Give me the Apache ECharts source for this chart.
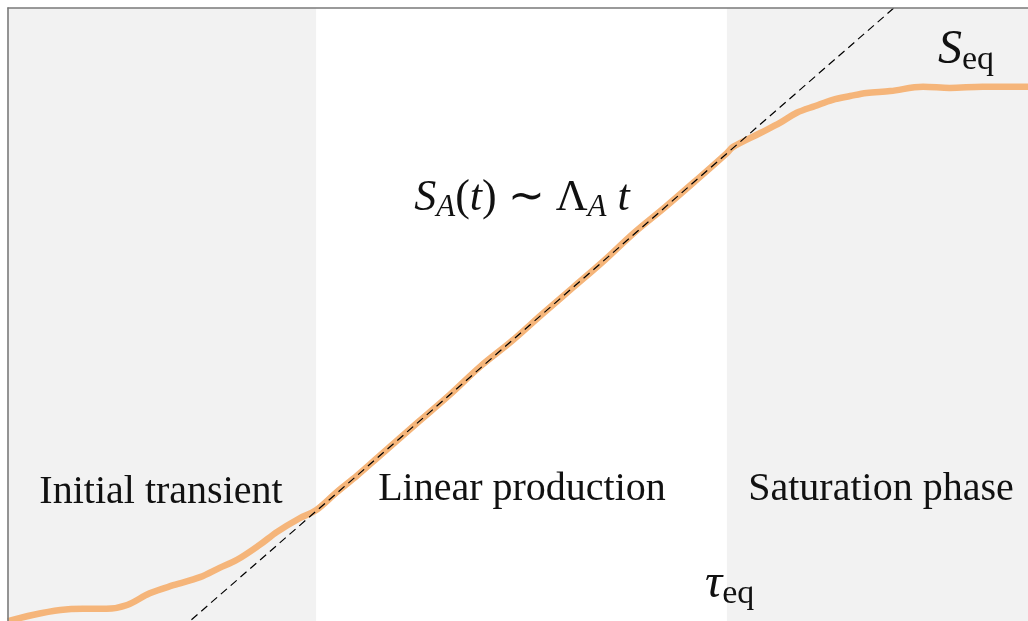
<!DOCTYPE html>
<html>
<head>
<meta charset="utf-8">
<script src="https://cdn.jsdelivr.net/npm/echarts@6/dist/echarts.min.js"></script>
<style>
html,body{margin:0;padding:0;background:#fff;}
#chart{width:1028px;height:621px;}
</style>
</head>
<body>
<div id="chart"></div>
<script>
// time values of the entropy curve
var curveT = [0, 0.24, 0.51, 0.73, 0.96, 1.16, 1.38, 1.61, 1.87, 2.06, 2.23, 2.45, 2.62, 2.84, 3.00,
  3.2, 3.4, 3.6, 3.8, 4.0, 4.3, 4.6, 4.9, 5.2, 5.5, 5.8, 6.1, 6.4, 6.7, 7.0,
  7.06, 7.32, 7.52, 7.68, 7.86, 8.03, 8.20, 8.36, 8.59, 8.91, 9.17, 9.49, 9.76, 10.0];
// entropy values S_A(t)
var curveS = [0.11, 0.21, 0.29, 0.31, 0.31, 0.37, 0.56, 0.69, 0.82, 0.97, 1.10, 1.34, 1.55, 1.77, 1.90,
  2.19, 2.46, 2.75, 3.04, 3.33, 3.76, 4.22, 4.62, 5.06, 5.49, 5.92, 6.38, 6.79, 7.22, 7.66,
  7.76, 7.98, 8.15, 8.31, 8.42, 8.52, 8.58, 8.63, 8.66, 8.73, 8.71, 8.73, 8.73, 8.73];
// linear-growth tangent  S = Lambda_A * t + c
var tangentT = [1.5, 9.0];
var tangentS = [-0.28, 10.54];
// phase boundaries
var phaseStarts = [0, 3, 7];
var phaseEnds = [3, 7, 10];
var phaseShaded = [true, false, true];
var phaseNames = ['Initial transient', 'Linear production', 'Saturation phase'];

function zip(a, b) { return a.map(function (v, i) { return [v, b[i]]; }); }

var areas = [];
phaseStarts.forEach(function (s, i) {
  if (phaseShaded[i]) areas.push([{ xAxis: s }, { xAxis: phaseEnds[i] }]);
});

var serif = 'Liberation Serif';
function plain(txt, x, y) {
  return { type: 'text', x: x, y: y, z: 20, style: { text: txt, fontFamily: serif, fontSize: 40, fill: '#111', textAlign: 'center', textVerticalAlign: 'middle' } };
}
var chart = echarts.init(document.getElementById('chart'), null, { renderer: 'canvas' });
chart.setOption({
  backgroundColor: '#ffffff',
  animation: false,
  grid: { left: 8, top: 8, width: 1027, height: 620, show: false, outerBoundsMode: 'none', containLabel: false },
  xAxis: {
    type: 'value', min: 0, max: 10, position: 'top', z: 10,
    axisLine: { show: true, onZero: false, lineStyle: { color: '#7a7a7a', width: 1.6 } },
    axisTick: { show: false }, axisLabel: { show: false }, splitLine: { show: false }
  },
  yAxis: {
    type: 'value', min: 0, max: 10, position: 'left', z: 10,
    axisLine: { show: true, onZero: false, lineStyle: { color: '#7a7a7a', width: 1.6 } },
    axisTick: { show: false }, axisLabel: { show: false }, splitLine: { show: false }
  },
  series: [
    {
      type: 'line', name: 'S_A', data: zip(curveT, curveS), showSymbol: false, smooth: 0.35,
      z: 3,
      lineStyle: { color: '#f5b57a', width: 6.5 },
      markArea: { silent: true, itemStyle: { color: '#f2f2f2' }, data: areas }
    },
    {
      type: 'line', name: 'tangent', data: zip(tangentT, tangentS), showSymbol: false,
      z: 4,
      lineStyle: { color: '#000000', width: 1.2, type: [8, 5] }
    }
  ],
  graphic: [
    plain(phaseNames[0], 161, 492),
    plain(phaseNames[1], 522, 489),
    plain(phaseNames[2], 881, 489),
    { type: 'text', x: 522, y: 198, z: 20, style: {
        text: '{it|S}{sub|A}{rm|(}{it|t}{rm|) \u223C \u039B}{sub|A}{it| t}',
        textAlign: 'center', textVerticalAlign: 'middle', fill: '#111',
        rich: {
          it: { fontFamily: serif, fontStyle: 'italic', fontSize: 44, fill: '#111' },
          rm: { fontFamily: serif, fontSize: 44, fill: '#111' },
          sub: { fontFamily: serif, fontStyle: 'italic', fontSize: 31, fill: '#111', padding: [20, 0, 0, 0] }
        } } },
    { type: 'text', x: 938, y: 50, z: 20, style: {
        text: '{it|S}{sub|eq}', textAlign: 'left', textVerticalAlign: 'middle', fill: '#111',
        rich: {
          it: { fontFamily: serif, fontStyle: 'italic', fontSize: 48, fill: '#111' },
          sub: { fontFamily: serif, fontSize: 34, fill: '#111', padding: [20, 0, 0, 0] }
        } } },
    { type: 'text', x: 705, y: 584, z: 20, style: {
        text: '{it|\u03C4}{sub|eq}', textAlign: 'left', textVerticalAlign: 'middle', fill: '#111',
        rich: {
          it: { fontFamily: serif, fontStyle: 'italic', fontSize: 48, fill: '#111' },
          sub: { fontFamily: serif, fontSize: 34, fill: '#111', padding: [20, 0, 0, 0] }
        } } }
  ]
});
</script>
</body>
</html>
